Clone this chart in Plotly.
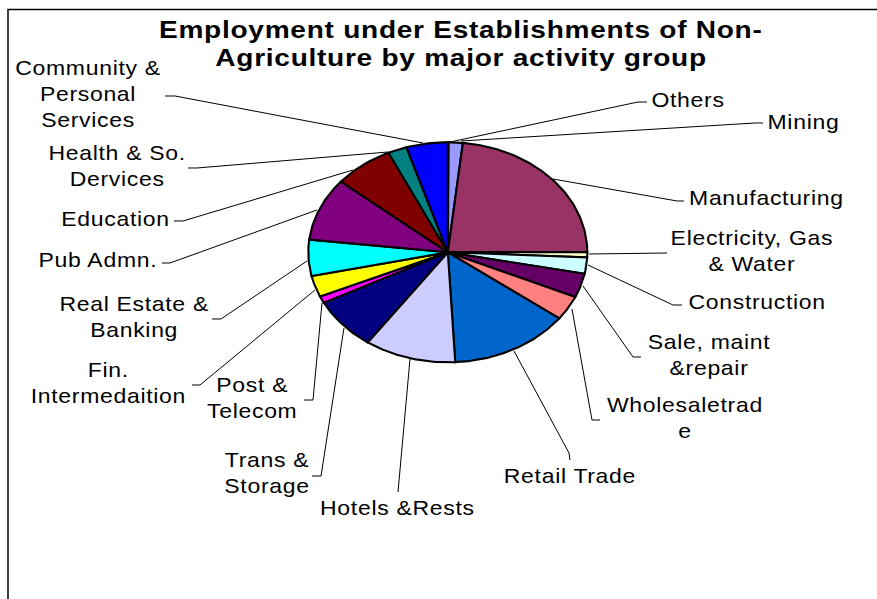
import math
import plotly.graph_objects as go

W, H = 877, 599
CX, CY, RX, RY = 447.8, 252.3, 139.5, 110.0

categories = ["Others", "Mining", "Manufacturing", "Electricity, Gas & Water", "Construction",
              "Sale, maint &repair", "Wholesaletrade", "Retail Trade", "Hotels &Rests",
              "Trans & Storage", "Post & Telecom", "Fin. Intermedaition", "Real Estate & Banking",
              "Pub Admn.", "Education", "Health & So. Dervices", "Community & Personal Services"]
values = [0.1, 1.63, 23.27, 0.78, 2.4, 3.55, 3.6, 13.9, 10.6, 7.7, 1.0, 3.14, 5.3, 9.3, 6.9, 2.2, 4.8]
colors = ["#000000", "#9999FF", "#993366", "#FFFFCC", "#CCFFFF", "#660066", "#FF8080", "#0066CC",
          "#CCCCFF", "#000080", "#FF00FF", "#FFFF00", "#00FFFF", "#800080", "#800000", "#008080", "#0000FF"]
title_lines = ["Employment under Establishments of Non-", "Agriculture by major activity group"]
label_text = ["Others", "Mining", "Manufacturing", "Electricity, Gas<br>& Water", "Construction",
              "Sale, maint<br>&repair", "Wholesaletrad<br>e", "Retail Trade", "Hotels &Rests",
              "Trans &<br>Storage", "Post &<br>Telecom", "Fin.<br>Intermedaition", "Real Estate &<br>Banking",
              "Pub Admn.", "Education", "Health & So.<br>Dervices", "Community &<br>Personal<br>Services"]
label_xy = [(688, 100), (803, 122), (766, 198), (752, 251), (757, 302), (709, 355), (685, 418),
            (570, 476), (397, 508), (267, 473), (252, 398), (108, 383), (134, 317), (98, 260),
            (115, 219), (117, 166), (88, 94)]
leaders = [[(450, 142), (638, 102), (647, 102)], [(461, 141), (755, 123), (763, 123)],
           [(553, 179), (677, 201), (684, 201)], [(589, 254), (667, 253)],
           [(588, 265), (673, 305), (682, 305)], [(583, 286), (633, 357), (641, 357)],
           [(572, 309), (592, 420), (600, 420)], [(514, 351), (569, 453), (570, 460)], [(410, 359), (398, 492)],
           [(344, 328), (321, 476), (312, 476)], [(322, 303), (313, 400), (304, 400)],
           [(315, 290), (200, 385), (192, 385)], [(307, 261), (221, 319), (212, 319)],
           [(317, 210), (170, 263), (162, 263)], [(353, 170), (183, 221), (174, 221)],
           [(388, 152), (197, 168), (188, 168)], [(423, 143), (175, 96), (165, 96)]]

fig = go.Figure()
total = sum(values)
acc = 0.0
for name, v, c in zip(categories, values, colors):
    a0, a1 = acc / total, (acc + v) / total
    acc += v
    n = max(2, int(v * 4))
    ts = [(a0 + (a1 - a0) * i / n) * 2 * math.pi for i in range(n + 1)]
    xs = [0.0] + [math.sin(t) for t in ts] + [0.0]
    ys = [0.0] + [math.cos(t) for t in ts] + [0.0]
    fig.add_trace(go.Scatter(x=xs, y=ys, mode="lines", fill="toself", fillcolor=c, name=name,
                             line=dict(color="#000000", width=2.1), hoverinfo="name", showlegend=False))

px = lambda x: x / W
py = lambda y: 1 - y / H
shapes = [dict(type="path", xref="paper", yref="paper",
               path="M %f,%f L %f,%f L %f,%f" % (px(8), py(H), px(8), py(9.5), px(W), py(9.5)),
               line=dict(color="#000000", width=1.5))]
for pts in leaders:
    p = "M " + " L ".join("%f,%f" % (px(a), py(b)) for a, b in pts)
    shapes.append(dict(type="path", xref="paper", yref="paper", path=p, line=dict(color="#000000", width=1)))

FONT = "Liberation Sans"
ann = []
for t, (x, y) in zip(label_text, label_xy):
    ann.append(dict(text=t, x=px(x), y=py(y), xref="paper", yref="paper", showarrow=False, align="center",
                    xanchor="center", yanchor="middle", font=dict(family=FONT, size=20, color="#000000")))
for t, y in zip(title_lines, (30, 58)):
    ann.append(dict(text="<b>" + t + "</b>", x=px(460.5), y=py(y), xref="paper", yref="paper", showarrow=False,
                    xanchor="center", yanchor="middle", font=dict(family=FONT, size=23, color="#000000")))

fig.update_layout(width=W, height=H, margin=dict(l=0, r=0, t=0, b=0), paper_bgcolor="white", plot_bgcolor="white",
                  showlegend=False, shapes=shapes, annotations=ann,
                  xaxis=dict(visible=False, range=[-CX / RX, (W - CX) / RX], fixedrange=True),
                  yaxis=dict(visible=False, range=[(CY - H) / RY, CY / RY], fixedrange=True))
n_labels = len(label_text)
css = (".annotation-text{transform-box:fill-box;transform-origin:center;transform:scaleX(1.15);letter-spacing:0.6px}"
       + "".join('.annotation[data-index="%d"] .annotation-text{transform:scaleX(1.22);letter-spacing:0.6px}' % i
                 for i in range(n_labels, n_labels + len(title_lines))))
fig.write_html("out.html", config={"displayModeBar": False},
               post_script="document.body.style.margin='0';document.body.style.overflow='hidden';"
                           "var s=document.createElement('style');s.textContent='%s';document.head.appendChild(s);"
                           % css.replace("'", "\\'"))
